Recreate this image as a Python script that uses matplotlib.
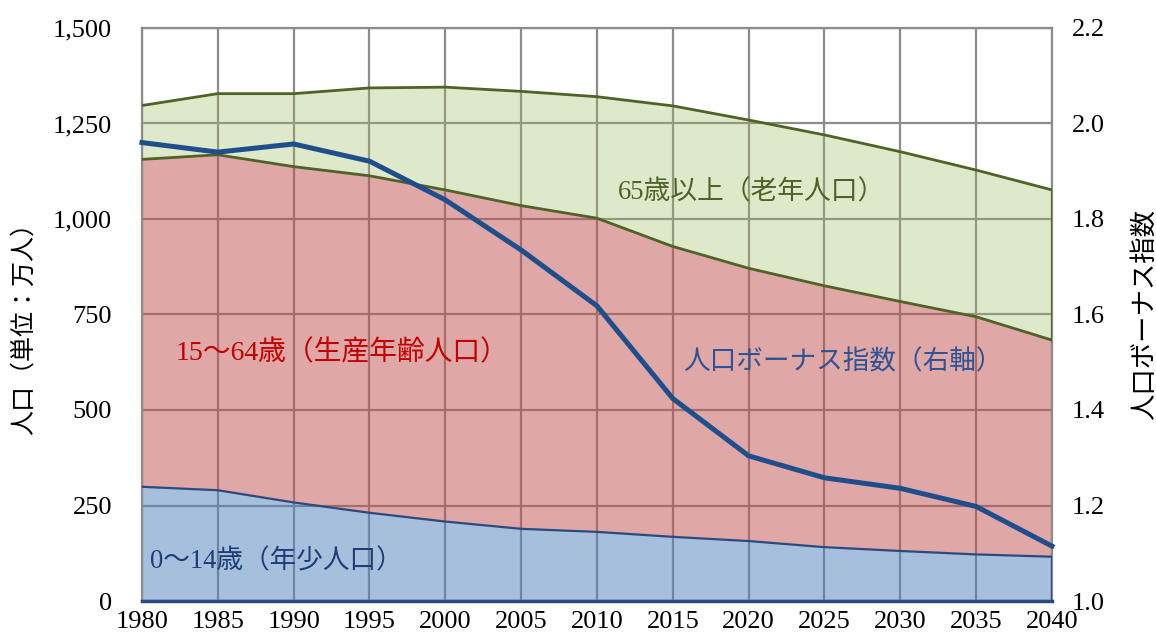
import matplotlib
matplotlib.use("Agg")
import matplotlib.pyplot as plt
from matplotlib.ticker import FuncFormatter, MultipleLocator

plt.rcParams['font.family'] = ['Liberation Serif', 'Noto Sans CJK JP', 'DejaVu Sans']

# Population by age group (10,000 persons) and the demographic bonus index
years = [1980, 1985, 1990, 1995, 2000, 2005, 2010, 2015, 2020, 2025, 2030, 2035, 2040]
age_0_14 = [299, 290, 258, 231, 208, 189, 181, 168, 157, 141, 131, 122, 116]
age_15_64 = [857, 878, 879, 882, 868, 846, 821, 760, 714, 684, 653, 622, 567]
age_65_plus = [141, 160, 191, 230, 269, 299, 318, 368, 388, 395, 392, 384, 393]
bonus_index = [1.960, 1.940, 1.957, 1.921, 1.840, 1.735, 1.618, 1.424, 1.304, 1.258, 1.236, 1.198, 1.115]

left_ticks = [0, 250, 500, 750, 1000, 1250, 1500]
right_ticks = [1.0, 1.2, 1.4, 1.6, 1.8, 2.0, 2.2]

label_young = "0～14歳（年少人口）"
label_work = "15～64歳（生産年齢人口）"
label_old = "65歳以上（老年人口）"
label_bonus = "人口ボーナス指数（右軸）"
left_title = "人口（単位：万人）"
right_title = "人口ボーナス指数"

fig = plt.figure(figsize=(11.56, 6.35), dpi=100)
ax = fig.add_axes([0.1228, 0.0535, 0.7872, 0.9025])

grid_color = "#8C8C8C"
ax.set_axisbelow(True)
ax.grid(True, color=grid_color, linewidth=1.6, zorder=0)
for s in ax.spines.values():
    s.set_color(grid_color)
    s.set_linewidth(1.6)

y1 = age_0_14
y2 = [a + b for a, b in zip(age_0_14, age_15_64)]
y3 = [a + b for a, b in zip(y2, age_65_plus)]

ax.fill_between(years, 0, y1, color="#4F81BD", alpha=0.50, linewidth=0, zorder=2)
ax.fill_between(years, y1, y2, color="#C0504D", alpha=0.50, linewidth=0, zorder=2)
ax.fill_between(years, y2, y3, color="#9BBB59", alpha=0.32, linewidth=0, zorder=2)

navy_edge = "#2A4A80"
olive = "#4F6228"
ax.plot(years, y1, color=navy_edge, linewidth=1.6, zorder=3)
ax.plot([years[0], years[-1]], [0, 0], color=navy_edge, linewidth=2.5, zorder=3, clip_on=False)
ax.plot([years[-1], years[-1]], [0, y1[-1]], color=navy_edge, linewidth=1.6, zorder=3)
ax.plot(years, y2, color=olive, linewidth=2.0, zorder=3)
ax.plot(years, y3, color=olive, linewidth=2.0, zorder=3)
ax.plot([years[-1], years[-1]], [y2[-1], y3[-1]], color=olive, linewidth=2.0, zorder=3)

ax.set_xlim(1980, 2040)
ax.set_ylim(0, 1500)
ax.xaxis.set_major_locator(MultipleLocator(5))
ax.set_yticks(left_ticks)
ax.yaxis.set_major_formatter(FuncFormatter(lambda v, p: f"{int(v):,}"))
ax.tick_params(axis="both", length=0, labelsize=19, colors="black")
ax.tick_params(axis="y", pad=21.5)
ax.tick_params(axis="x", pad=7)
ax.set_ylabel(left_title, fontsize=18, labelpad=12)
ax.yaxis.label.set_y(0.486)

ax2 = ax.twinx()
ax2.set_ylim(1.0, 2.2)
ax2.set_yticks(right_ticks)
ax2.yaxis.set_major_formatter(FuncFormatter(lambda v, p: f"{v:.1f}"))
ax2.tick_params(axis="y", length=0, labelsize=19, pad=14)
for s in ax2.spines.values():
    s.set_visible(False)
ax2.plot(years, bonus_index, color="#1F4E8C", linewidth=3.6, zorder=5,
         solid_joinstyle="miter", clip_on=False)
ax2.set_ylabel(right_title, fontsize=19, labelpad=20)

ax.text(2011.4, 1068, label_old, fontsize=19.3, color="#4F6228", va="center", ha="left", zorder=6)
ax.text(1982.2, 649, label_work, fontsize=20, color="#C00000", va="center", ha="left", zorder=6)
ax.text(1980.5, 102, label_young, fontsize=19.2, color="#1F3E78", va="center", ha="left", zorder=6)
ax.text(2015.7, 623, label_bonus, fontsize=19.2, color="#2E5395", va="center", ha="left", zorder=6)

fig.savefig("out.png", dpi=100)
